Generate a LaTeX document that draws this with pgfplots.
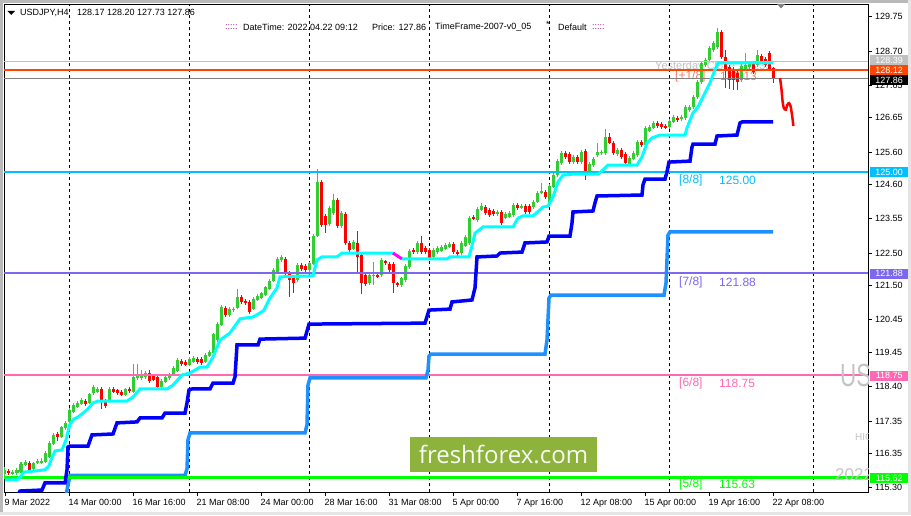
\documentclass[border=0pt]{standalone}
\usepackage{pgfplots}
\pgfplotsset{compat=1.18}
\usepackage{pgfplotstable}
\usepackage{fontspec}
\setmainfont{Liberation Sans}
\newfontfamily\opensans{Open Sans}

\definecolor{cgreen}{HTML}{32CD32}
\definecolor{cred}{HTML}{FF0000}
\definecolor{caqua}{HTML}{00FFFF}
\definecolor{cblue}{HTML}{0000FF}
\definecolor{cdodger}{HTML}{1E90FF}
\definecolor{cmag}{HTML}{FF00FF}
\definecolor{lvl8}{HTML}{00BFFF}
\definecolor{lvl7}{HTML}{7B68EE}
\definecolor{lvl6}{HTML}{FF69B4}
\definecolor{lvl5}{HTML}{00FF00}
\definecolor{lvlp}{HTML}{FF4500}
\definecolor{lvlptxt}{HTML}{F47A5E}
\definecolor{ysilver}{HTML}{C0C0C0}
\definecolor{bidgray}{HTML}{808080}
\definecolor{ffgreen}{HTML}{8DB33C}
\definecolor{wmgray}{HTML}{C4C4C4}
\definecolor{colons}{HTML}{800080}

% H4 candles, x = bar number (0 = 9 Mar 08:00)
\pgfplotstableread{
i o h l c
0 115.72 115.94 115.66 115.85
2 115.72 115.84 115.68 115.78
3 115.75 115.90 115.70 115.85
4 115.78 116.08 115.74 116.03
5 116.00 116.16 115.96 116.09
7 115.88 116.10 115.84 116.06
8 116.06 116.18 116.02 116.12
9 116.06 116.20 116.02 116.12
10 116.09 116.42 116.05 116.37
11 116.24 116.72 116.20 116.67
12 116.64 116.98 116.60 116.92
14 116.86 117.20 116.82 117.16
15 117.13 117.34 117.08 117.29
16 117.32 117.74 117.28 117.69
17 117.62 117.90 117.58 117.84
18 117.78 117.95 117.74 117.90
19 117.87 118.05 117.83 117.99
21 117.90 118.22 117.86 118.18
22 118.21 118.45 118.16 118.39
23 118.24 118.38 118.20 118.33
26 117.96 118.38 117.92 118.33
30 118.15 118.37 118.10 118.33
32 118.24 119.10 118.20 118.70
33 118.67 119.10 118.62 118.73
34 118.67 118.90 118.62 118.73
35 118.70 118.88 118.65 118.82
39 118.39 118.63 118.35 118.58
40 118.54 118.75 118.50 118.70
41 118.67 118.82 118.62 118.76
42 118.76 119.02 118.72 118.97
43 118.88 119.28 118.84 119.22
46 119.07 119.30 119.02 119.25
47 119.16 119.34 119.12 119.28
50 119.16 119.42 119.12 119.37
51 119.34 119.52 119.30 119.46
52 119.43 120.06 119.40 120.02
53 119.83 120.38 119.78 120.32
54 120.29 120.90 120.25 120.85
56 120.60 120.84 120.55 120.78
57 120.75 120.84 120.70 120.78
58 120.81 121.40 120.77 121.15
62 120.78 121.14 120.74 121.09
63 121.06 121.23 121.02 121.18
64 121.12 121.32 121.08 121.27
65 121.21 121.50 121.17 121.46
66 121.40 121.69 121.36 121.64
67 121.64 122.03 121.60 121.98
68 121.92 122.37 121.88 122.32
69 122.29 122.44 122.24 122.38
73 121.67 122.18 121.62 122.13
76 121.98 122.24 121.93 122.19
77 122.16 123.08 122.12 123.02
78 123.02 125.08 122.98 124.68
81 123.39 123.94 123.34 123.88
82 123.73 124.31 123.68 124.13
84 123.33 123.80 123.28 123.73
87 122.62 122.90 122.58 122.84
91 121.58 121.88 121.53 121.83
92 121.80 122.23 121.52 121.83
94 121.83 122.34 121.78 122.29
99 121.52 121.78 121.47 121.73
100 121.67 122.15 121.62 122.10
101 122.07 122.62 122.02 122.56
103 122.53 122.86 122.48 122.81
107 122.38 122.64 122.33 122.59
108 122.53 122.72 122.48 122.66
109 122.56 122.75 122.52 122.69
110 122.62 122.80 122.58 122.75
111 122.69 122.84 122.64 122.78
114 122.50 122.86 122.45 122.81
115 122.72 123.04 122.68 122.99
116 122.81 123.63 122.76 123.58
118 123.51 123.90 123.46 123.85
119 123.82 124.04 123.78 123.94
123 123.70 123.82 123.65 123.76
125 123.58 123.75 123.53 123.70
126 123.61 123.78 123.56 123.73
127 123.67 124.02 123.62 123.97
129 123.88 124.00 123.84 123.94
132 123.91 124.12 123.86 124.07
133 124.07 124.40 124.02 124.34
134 124.34 124.65 124.30 124.40
136 124.04 124.61 123.99 124.56
137 124.53 124.95 124.48 124.89
138 124.89 125.38 124.84 125.32
139 125.26 125.62 125.21 125.57
142 125.29 125.50 125.24 125.45
144 125.29 125.65 125.24 125.60
146 124.99 125.28 124.94 125.23
147 125.20 125.44 125.15 125.39
148 125.51 125.88 125.46 125.60
149 125.57 125.65 125.52 125.60
150 125.57 126.31 125.52 126.06
153 125.54 125.71 125.49 125.66
156 125.23 125.47 125.18 125.42
157 125.39 125.62 125.34 125.57
158 125.51 125.96 125.46 125.91
160 125.81 126.40 125.76 126.34
161 126.24 126.42 126.20 126.37
162 126.34 126.55 126.30 126.49
166 126.37 126.60 126.32 126.55
167 126.52 126.72 126.48 126.67
169 126.61 126.73 126.56 126.67
170 126.64 127.03 126.59 126.98
171 126.89 127.04 126.84 126.98
172 126.98 127.34 126.93 127.29
173 127.29 127.80 127.24 127.75
174 127.75 128.38 127.70 128.33
175 128.27 128.48 128.22 128.42
176 128.42 128.84 128.37 128.79
177 128.73 129.00 128.68 128.94
178 128.82 129.40 128.77 129.28
184 127.81 128.29 127.76 128.24
185 128.12 128.64 128.07 128.27
186 128.21 128.39 128.16 128.33
188 128.27 128.73 128.22 128.58
}\candUp

\pgfplotstableread{
i o h l c
1 115.81 115.88 115.70 115.75
6 116.06 116.12 115.80 115.85
13 116.95 117.02 116.73 116.86
20 117.96 118.02 117.82 117.87
24 118.33 118.39 117.71 117.96
25 117.96 118.02 117.76 117.81
27 118.33 118.40 118.20 118.24
28 118.30 118.34 118.16 118.21
29 118.24 118.30 118.10 118.15
31 118.33 118.38 118.22 118.27
36 118.82 118.90 118.52 118.58
37 118.73 118.78 118.56 118.61
38 118.70 118.76 118.34 118.39
44 119.19 119.26 119.04 119.10
45 119.16 119.22 119.02 119.07
48 119.25 119.30 119.10 119.16
49 119.25 119.30 119.08 119.13
55 120.81 120.88 120.55 120.60
59 121.15 121.22 120.95 121.00
60 121.03 121.08 120.92 120.97
61 121.00 121.05 120.64 120.69
70 122.32 122.38 121.83 121.92
71 121.89 121.94 121.15 121.67
72 121.73 121.80 121.27 121.58
74 122.13 122.20 121.96 122.01
75 122.10 122.15 121.93 121.98
79 124.68 124.75 123.30 123.36
80 123.64 123.70 123.12 123.36
83 124.13 124.18 123.28 123.33
85 123.70 123.76 122.76 122.81
86 122.81 122.86 122.54 122.59
88 122.81 123.18 121.92 122.38
89 122.44 122.50 121.24 121.58
90 121.83 121.88 121.50 121.55
93 121.83 121.88 121.72 121.77
95 122.26 122.30 122.14 122.19
96 122.16 122.22 121.93 121.98
97 122.16 122.22 121.27 121.58
98 121.58 121.62 121.46 121.52
102 122.59 122.64 122.48 122.53
104 122.81 123.02 122.48 122.53
105 122.66 122.72 122.48 122.53
106 122.59 122.64 122.30 122.35
112 122.78 122.84 122.48 122.53
113 122.53 122.58 122.42 122.47
117 123.61 123.66 123.50 123.54
120 123.91 123.96 123.68 123.73
121 123.82 123.87 123.62 123.67
122 123.79 123.84 123.65 123.70
124 123.76 123.81 123.37 123.42
128 123.97 124.02 123.83 123.88
130 123.94 123.99 123.71 123.76
131 123.94 123.99 123.71 123.76
135 124.37 124.42 124.17 124.22
140 125.57 125.62 125.40 125.45
141 125.54 125.59 125.24 125.29
143 125.45 125.50 125.24 125.29
145 125.63 125.68 124.74 124.99
151 126.06 126.18 125.83 125.88
152 125.88 125.93 125.52 125.57
154 125.66 125.71 125.40 125.45
155 125.54 125.59 125.21 125.26
159 125.91 125.96 125.76 125.81
163 126.49 126.55 126.35 126.40
164 126.46 126.52 126.32 126.37
165 126.40 126.45 126.29 126.34
168 126.64 126.70 126.53 126.58
179 129.28 129.33 128.46 128.51
180 128.51 128.73 127.56 128.12
181 128.21 128.26 127.53 127.81
182 128.15 128.20 127.50 127.81
183 128.02 128.08 127.50 127.75
187 128.33 128.38 128.00 128.05
189 128.54 128.60 128.31 128.36
190 128.45 128.50 128.22 128.27
191 128.64 128.70 128.07 128.12
192 128.17 128.20 127.73 127.86
}\candDown

\begin{document}
\begin{tikzpicture}
\path[use as bounding box] (-4pt,-23pt) rectangle (907pt,492pt);
\fill[white] (-4pt,-23pt) rectangle (907pt,492pt);
\begin{axis}[
    at={(0pt,0pt)}, anchor=south west,
    scale only axis,
    width=864pt, height=487.5pt,
    xmin=-0.25, xmax=215.75,
    ymin=115.170, ymax=130.124,
    axis line style={line width=0.9pt, black},
    xtick pos=lower, ytick pos=upper,
    xticklabel pos=lower, yticklabel pos=upper,
    tick align=outside,
    major tick length=4pt,
    tick style={black, line width=0.8pt},
    tick label style={font=\fontsize{9}{10}\selectfont},
    xtick={0,16,32,48,64,80,96,112,128,144,160,176,192},
    xticklabels={9 Mar 2022, 14 Mar 00:00, 16 Mar 16:00, 21 Mar 08:00, 24 Mar 00:00, 28 Mar 16:00, 31 Mar 08:00, 5 Apr 00:00, 7 Apr 16:00, 12 Apr 08:00, 15 Apr 00:00, 19 Apr 16:00, 22 Apr 08:00},
    xticklabel style={anchor=north west, inner xsep=0pt, xshift=-0.5pt},
    ytick={129.75,128.70,127.65,126.65,125.60,124.60,123.55,122.50,121.50,120.45,119.45,118.40,117.35,116.35,115.30},
    yticklabels={129.75,128.70,127.65,126.65,125.60,124.60,123.55,122.50,121.50,120.45,119.45,118.40,117.35,116.35,115.30},
    yticklabel style={anchor=west, inner xsep=0pt, xshift=3pt},
]
% level captions (behind the candles)
\node[anchor=west, inner sep=0pt, text=ysilver, font=\fontsize{11}{12}\selectfont] at (axis cs:162.5,128.22) {Yesterday Close 128.39};
\node[anchor=west, inner sep=0pt, text=lvlptxt, font=\fontsize{12}{13}\selectfont] at (axis cs:167.5,127.91) {[+1/8]};
\node[anchor=west, inner sep=0pt, text=lvlptxt, font=\fontsize{12}{13}\selectfont] at (axis cs:178.75,127.91) {128.13};
\node[anchor=west, inner sep=0pt, text=lvl8, font=\fontsize{12}{13}\selectfont] at (axis cs:168.5,124.74) {[8/8]};
\node[anchor=west, inner sep=0pt, text=lvl8, font=\fontsize{12}{13}\selectfont] at (axis cs:178.5,124.74) {125.00};
\node[anchor=west, inner sep=0pt, text=lvl7, font=\fontsize{12}{13}\selectfont] at (axis cs:168.5,121.61) {[7/8]};
\node[anchor=west, inner sep=0pt, text=lvl7, font=\fontsize{12}{13}\selectfont] at (axis cs:178.5,121.61) {121.88};
\node[anchor=west, inner sep=0pt, text=lvl6, font=\fontsize{12}{13}\selectfont] at (axis cs:168.5,118.51) {[6/8]};
\node[anchor=west, inner sep=0pt, text=lvl6, font=\fontsize{12}{13}\selectfont] at (axis cs:178.5,118.51) {118.75};
\node[anchor=west, inner sep=0pt, text=lvl5, font=\fontsize{12}{13}\selectfont] at (axis cs:168.5,115.39) {[5/8]};
\node[anchor=west, inner sep=0pt, text=lvl5, font=\fontsize{12}{13}\selectfont] at (axis cs:178.5,115.39) {115.63};

% weekly separators
\draw[black, line width=0.8pt, dash pattern=on 3pt off 3pt] (axis cs:16,115) -- (axis cs:16,131);
\draw[black, line width=0.8pt, dash pattern=on 3pt off 3pt] (axis cs:46,115) -- (axis cs:46,131);
\draw[black, line width=0.8pt, dash pattern=on 3pt off 3pt] (axis cs:76,115) -- (axis cs:76,131);
\draw[black, line width=0.8pt, dash pattern=on 3pt off 3pt] (axis cs:106,115) -- (axis cs:106,131);
\draw[black, line width=0.8pt, dash pattern=on 3pt off 3pt] (axis cs:136,115) -- (axis cs:136,131);
\draw[black, line width=0.8pt, dash pattern=on 3pt off 3pt] (axis cs:166,115) -- (axis cs:166,131);
\draw[black, line width=0.8pt, dash pattern=on 3pt off 3pt] (axis cs:202,115) -- (axis cs:202,131);

% candles: wicks then bodies
\addplot[cgreen, line width=1pt, line cap=butt, quiver={u=0, v=\thisrow{h}-\thisrow{l}}] table[x=i, y=l] {\candUp};
\addplot[cgreen, line width=3pt, line cap=butt, quiver={u=0, v=\thisrow{c}-\thisrow{o}}] table[x=i, y=o] {\candUp};
\addplot[cred, line width=1pt, line cap=butt, quiver={u=0, v=\thisrow{h}-\thisrow{l}}] table[x=i, y=l] {\candDown};
\addplot[cred, line width=3pt, line cap=butt, quiver={u=0, v=\thisrow{c}-\thisrow{o}}] table[x=i, y=o] {\candDown};

% horizontal levels
\addplot[ysilver, line width=1pt] coordinates {(-0.25,128.39) (215.75,128.39)};
\addplot[lvlp, line width=2pt] coordinates {(-0.25,128.12) (215.75,128.12)};
\addplot[bidgray, line width=1pt] coordinates {(-0.25,127.86) (215.75,127.86)};
\addplot[lvl8, line width=2pt] coordinates {(-0.25,125.00) (215.75,125.00)};
\addplot[lvl7, line width=2pt] coordinates {(-0.25,121.88) (215.75,121.88)};
\addplot[lvl6, line width=2pt] coordinates {(-0.25,118.75) (215.75,118.75)};

% stepped trend lines
\addplot[cdodger, line width=3.5pt] coordinates {
(15.25,115.02) (15.5,115.23) (16.25,115.68) (45,115.68) (45.5,115.88) (45.75,116.77)
(46.25,116.98) (75,116.98) (75.5,117.23) (75.75,118.45) (76.25,118.67) (105.25,118.67)
(105.75,118.91) (106,119.34) (106.5,119.40) (135,119.40) (135.5,119.83) (136,121.12)
(136.5,121.21) (164.75,121.21) (165.25,121.58) (165.75,123.05) (166.25,123.15) (192,123.15)};
\addplot[lvl5, line width=2.5pt] coordinates {(-0.25,115.62) (215.75,115.62)};
\addplot[cblue, line width=3.5pt] coordinates {
(3,115.02) (3.75,115.20) (9.25,115.23) (10,115.45) (15,115.45) (15.5,115.85) (15.75,116.55)
(16.25,116.58) (20.75,116.58) (21.75,116.92) (27,116.95) (28,117.29) (33,117.32) (33.75,117.44)
(39.25,117.44) (40,117.59) (45,117.59) (45.5,117.90) (46,118.30) (46.75,118.33) (51.25,118.33)
(52,118.51) (57,118.51) (57.5,118.70) (58,119.68) (63.25,119.68) (63.75,119.86) (75,119.89)
(76,120.32) (105,120.35) (106,120.75) (111.25,120.78) (111.75,121.00) (116.75,121.06)
(117.5,121.43) (118,122.38) (123,122.41) (123.75,122.50) (129.25,122.53) (130,122.81)
(135.5,122.84) (136,123.02) (141.25,123.02) (141.75,123.42) (142,123.76) (147,123.79)
(147.5,124.04) (148,124.25) (159.25,124.28) (159.5,124.59) (160,124.77) (165,124.77)
(165.5,124.99) (166,125.29) (171.25,125.32) (171.75,125.75) (172,125.84) (177.5,125.84)
(178,126.09) (183,126.12) (183.75,126.49) (184.25,126.52) (192,126.52)};
\addplot[caqua, line width=3pt] coordinates {
(0,115.54) (3,115.54) (4,115.66) (4.75,115.78) (10,115.85) (11,115.97) (11.5,116.15)
(12.5,116.43) (14.25,116.46) (15.25,116.77) (16.25,117.26) (17.25,117.41) (18.25,117.47)
(20.5,117.69) (22,117.90) (23.25,117.96) (30.5,117.96) (32,118.08) (33.75,118.33)
(40.5,118.33) (42,118.45) (44.25,118.76) (46.25,118.82) (48.75,119.00) (50.5,119.00)
(52,119.31) (53.75,119.83) (56.25,120.05) (58.75,120.48) (62,120.54) (63.75,120.66)
(64.75,120.75) (66.25,121.12) (68,121.43) (68.75,121.77) (77,121.80) (78,122.29)
(79.25,122.38) (83,122.38) (84.25,122.50) (97,122.50)};
\addplot[cmag, line width=3pt] coordinates {(97,122.50) (99.25,122.32)};
\addplot[caqua, line width=3pt] coordinates {
(99.25,122.32) (110.5,122.32) (111.25,122.38) (116,122.38) (116.75,122.72) (117.5,123.11)
(119.5,123.30) (127,123.30) (128.25,123.57) (129.5,123.64) (132,123.64) (134.5,123.91)
(135.75,123.94) (137,124.22) (138.25,124.68) (139.5,124.89) (142,124.92) (148.25,124.92)
(149.5,125.05) (150.75,125.20) (158,125.20) (159.25,125.45) (160.5,125.88) (161.75,126.03)
(163.75,126.12) (170,126.12) (170.5,126.34) (172,126.80) (173.25,126.98) (174.5,127.29)
(176.25,127.72) (177.5,128.12) (178.25,128.33) (192,128.33)};
% projected path
\addplot[cred, line width=2.5pt, smooth] coordinates {
(193.75,127.87) (194.1,127.55) (194.4,127.15) (194.7,126.95) (195.2,126.90) (195.6,127.05)
(196.0,127.10) (196.4,127.00) (196.8,126.70) (197.1,126.40)};
\end{axis}

\begin{scope}[x=1pt, y=1pt]
% clipped watermark on the right of the chart
\begin{scope}
\clip (0,0) rectangle (864,487.5);
\node[anchor=west, inner sep=0pt, text=wmgray, font=\fontsize{32}{34}\selectfont] at (836,117) {\scalebox{0.7}[1]{USDJPY}};
\node[anchor=west, inner sep=0pt, text=wmgray, font=\fontsize{10}{11}\selectfont] at (851,54.5) {HIGH};
\node[anchor=west, inner sep=0pt, text=wmgray, font=\fontsize{17}{18}\selectfont] at (831,17) {2022};
\end{scope}
% header text
\fill[black] (3.5,481) -- (11,481) -- (7.25,477) -- cycle;
\node[anchor=west, inner sep=0pt, font=\fontsize{9}{10}\selectfont] at (16,479.3) {USDJPY,H4};
\node[anchor=west, inner sep=0pt, font=\fontsize{9}{10}\selectfont] at (73,479.3) {128.17 128.20 127.73 127.86};
\node[anchor=west, inner sep=0pt, text=colons, font=\fontsize{9}{10}\selectfont] at (221,465) {:::::};
\node[anchor=west, inner sep=0pt, font=\fontsize{9}{10}\selectfont] at (239,465) {DateTime: 2022.04.22 09:12};
\node[anchor=west, inner sep=0pt, font=\fontsize{9}{10}\selectfont] at (368,465) {Price: 127.86};
\node[anchor=west, inner sep=0pt, font=\fontsize{9}{10}\selectfont] at (431,465) {TimeFrame-2007-v0\_05};
\node[anchor=west, inner sep=0pt, font=\fontsize{9}{10}\selectfont] at (542,468) {*};
\node[anchor=west, inner sep=0pt, font=\fontsize{9}{10}\selectfont] at (554,465) {Default};
\node[anchor=west, inner sep=0pt, text=colons, font=\fontsize{9}{10}\selectfont] at (588,465) {:::::};
% chart shift marker
\fill[bidgray] (773,488) -- (781,488) -- (777,483.5) -- cycle;
% logo
\fill[ffgreen] (406,20) rectangle (593,55);
\node[text=white!95!ffgreen, font=\opensans\fontsize{24}{26}\selectfont, inner sep=0pt] at (499.5,38) {freshforex.com};
% price tags on the scale
\tikzset{tag/.style={anchor=west, fill=#1, text=white, inner sep=0pt, minimum width=38pt, minimum height=10pt, font=\fontsize{9}{10}\selectfont}}
\node[tag=ysilver] at (866,431.5) {128.39};
\node[tag=lvlp] at (866,422) {128.12};
\node[tag=black] at (866,412) {127.86};
\node[tag=lvl8] at (866,320) {125.00};
\node[tag=lvl7] at (866,218.5) {121.88};
\node[tag=lvl6] at (866,116.5) {118.75};
\node[tag=lvl5] at (866,14) {115.62};
% window border
\fill[gray!55] (-4,489) rectangle (907,492);
\fill[gray!55] (-4,-23) rectangle (-1,492);
\fill[gray!20] (904,-23) rectangle (907,492);
\fill[gray!20] (-4,-23) rectangle (907,-20);
\end{scope}
\end{tikzpicture}
\end{document}
